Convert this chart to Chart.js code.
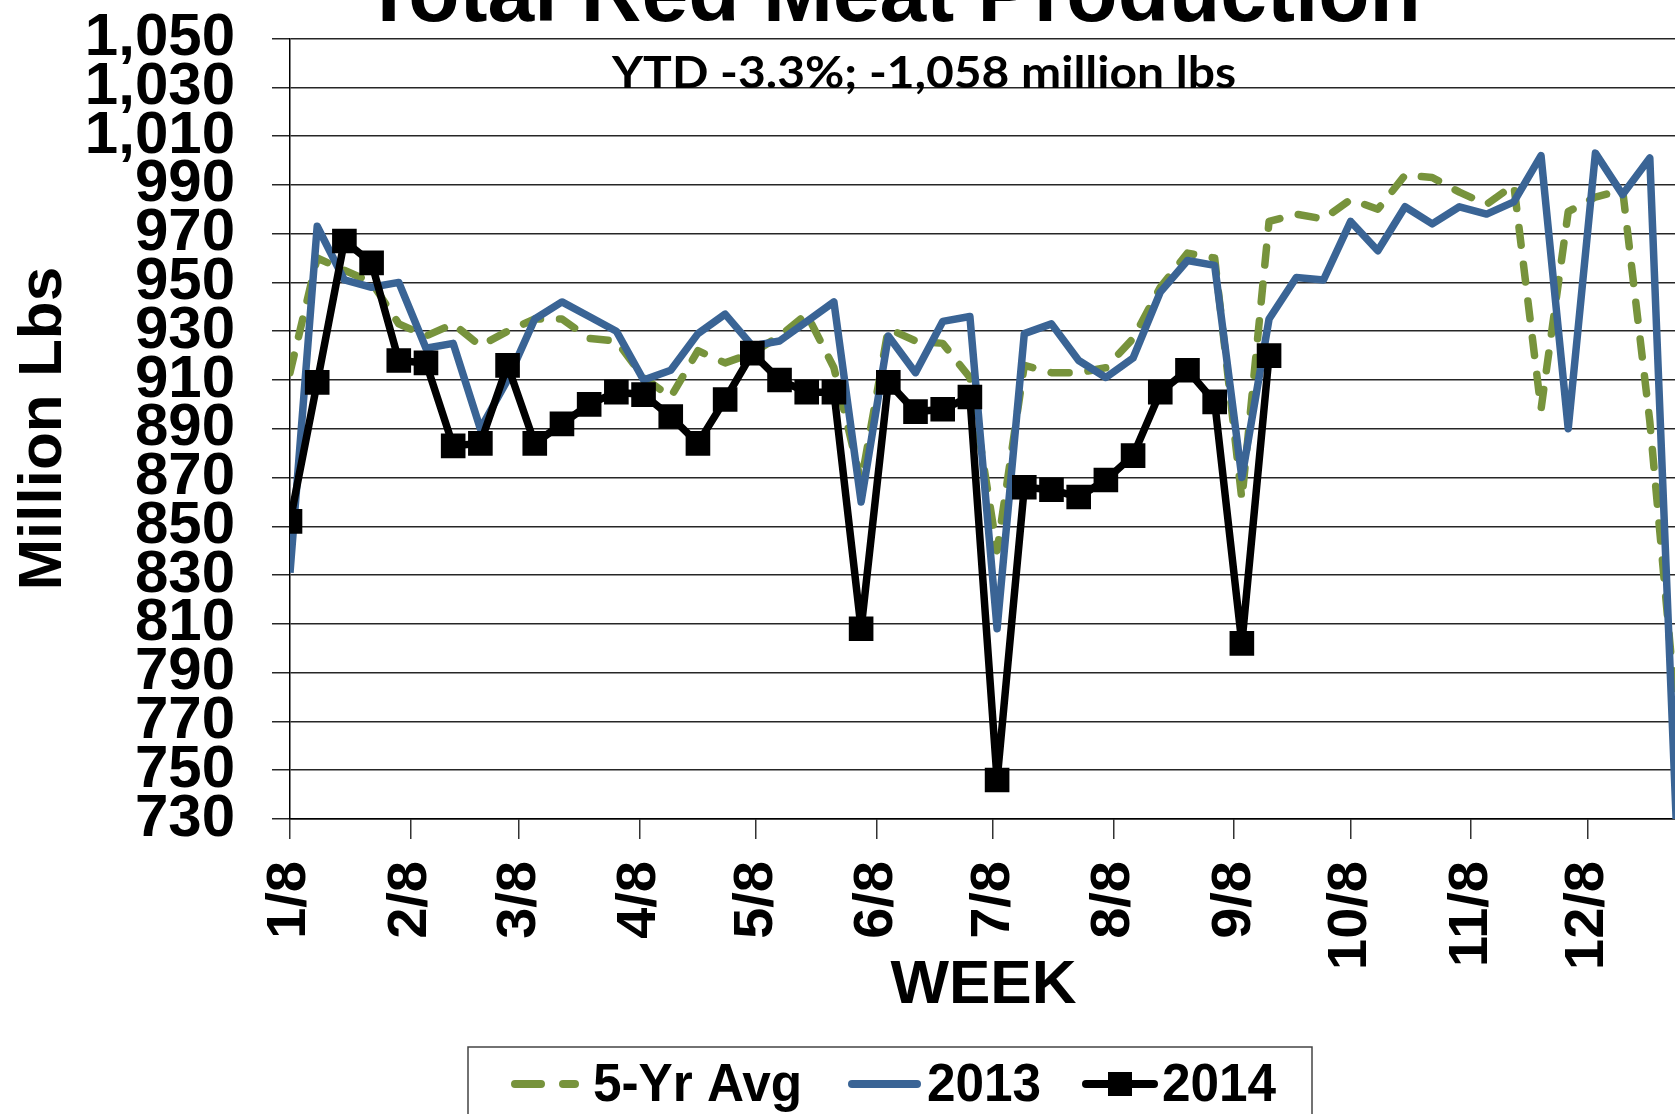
<!DOCTYPE html>
<html>
<head>
<meta charset="utf-8">
<script src="https://cdn.jsdelivr.net/npm/chart.js@4.4.1/dist/chart.umd.min.js"></script>
<style>
  html, body { margin: 0; padding: 0; overflow: hidden; background: #fff; }
  #wrap { width: 1675px; height: 1114px; overflow: hidden; position: relative; }
  canvas { position: absolute; left: 0; top: 0; }
</style>
</head>
<body>
<div id="wrap"><canvas id="meatChart" width="1700" height="1114"></canvas></div>
<script>
// weekly red meat production, million lbs, one value per week from 1/8
var avg5Yr = [913, 960, 955, 950, 933, 928, 933, 924, 930, 935, 935, 927, 926, 911, 903, 922,
              917, 921, 928, 937, 915, 868, 931, 926, 925, 911, 840, 916, 913, 913, 915, 927,
              948, 962, 960, 861, 975, 978, 976, 984, 980, 994, 993, 987, 982, 990, 898, 979,
              985, 988, 893, 770];
var y2013 = [831, 973, 951, 948, 950, 923, 925, 890, 910, 935, 942, 936, 930, 910, 914, 929,
             937, 924, 926, 934, 942, 860, 928, 913, 934, 936, 808, 929, 933, 918, 911, 919,
             946, 959, 957, 870, 935, 952, 951, 975, 963, 981, 974, 981, 978, 983, 1002, 890,
             1003, 986, 1001, 721];
var y2014 = [852, 909, 967, 958, 918, 917, 883, 884, 916, 884, 892, 900, 905, 904, 895, 884,
             902, 921, 910, 905, 905, 808, 909, 897, 898, 903, 746, 866, 865, 862, 869, 879,
             905, 914, 901, 802, 920];

// x axis is in days since 1/8, labelled on the 8th of every month
var monthLabels = ['1/8', '2/8', '3/8', '4/8', '5/8', '6/8', '7/8', '8/8', '9/8', '10/8', '11/8', '12/8'];
var monthDays = [0, 31, 59, 90, 120, 151, 181, 212, 243, 273, 304, 334];
var lastDay = 357;

var yMin = 730, yMax = 1050, yStep = 20;

var chartTitle = 'Total Red Meat Production';
var chartNote = 'YTD -3.3%; -1,058 million lbs';

var ARIAL = '"Liberation Sans", Arial, sans-serif';

function toPoints(values) {
    return values.map(function (v, i) { return { x: i * 7, y: v }; });
}

// title, note in the plot and the boxed legend
var decorations = {
    id: 'decorations',
    afterDraw: function (chart) {
        var ctx = chart.ctx;
        ctx.save();
        ctx.fillStyle = '#000';
        ctx.textAlign = 'center';
        ctx.textBaseline = 'alphabetic';
        ctx.font = 'bold 84px ' + ARIAL;
        ctx.fillText(chartTitle, 892, 21);

        ctx.font = 'bold 44px Lato, "Open Sans", sans-serif';
        var w = ctx.measureText(chartNote).width;
        ctx.save();
        ctx.translate(924, 88);
        ctx.scale(624 / w, 1);
        ctx.fillText(chartNote, 0, 0);
        ctx.restore();

        // legend box
        ctx.strokeStyle = '#444';
        ctx.lineWidth = 1.5;
        ctx.strokeRect(468, 1047, 844, 100);

        var ly = 1084;
        var items = [
            { ds: chart.data.datasets[0], x0: 515, x1: 575, tx: 593 },
            { ds: chart.data.datasets[1], x0: 852, x1: 917, tx: 927 },
            { ds: chart.data.datasets[2], x0: 1086, x1: 1154, tx: 1162 }
        ];
        items.forEach(function (it) {
            ctx.save();
            ctx.strokeStyle = it.ds.borderColor;
            ctx.lineWidth = 8;
            ctx.lineCap = 'round';
            ctx.setLineDash(it.ds.borderDash ? [26, 22] : []);
            ctx.beginPath();
            ctx.moveTo(it.x0, ly);
            ctx.lineTo(it.x1, ly);
            ctx.stroke();
            ctx.restore();
            if (it.ds.pointRadius > 0) {
                ctx.fillStyle = it.ds.pointBackgroundColor;
                ctx.fillRect((it.x0 + it.x1) / 2 - 12, ly - 12, 24, 24);
            }
            ctx.fillStyle = '#000';
            ctx.textAlign = 'left';
            ctx.textBaseline = 'middle';
            ctx.font = 'bold 54px ' + ARIAL;
            ctx.save();
            ctx.translate(it.tx, ly + 2);
            ctx.scale(0.95, 1);
            ctx.fillText(it.ds.label, 0, 0);
            ctx.restore();
        });
        ctx.restore();
    }
};

var ctx = document.getElementById('meatChart').getContext('2d');
var meatChart = new Chart(ctx, {
    type: 'line',
    data: {
        datasets: [{
            label: '5-Yr Avg',
            data: toPoints(avg5Yr),
            borderColor: '#77933C',
            borderWidth: 7.5,
            borderDash: [18, 19],
            borderCapStyle: 'round',
            borderJoinStyle: 'round',
            pointRadius: 0,
            order: 3
        }, {
            label: '2013',
            data: toPoints(y2013),
            borderColor: '#3A6495',
            borderWidth: 7.5,
            borderJoinStyle: 'round',
            pointRadius: 0,
            order: 2
        }, {
            label: '2014',
            data: toPoints(y2014),
            borderColor: '#000',
            borderWidth: 7.5,
            borderJoinStyle: 'round',
            pointStyle: 'rect',
            pointRadius: 16,
            pointBorderWidth: 2,
            pointBackgroundColor: '#000',
            pointBorderColor: '#000',
            order: 1
        }]
    },
    options: {
        responsive: false,
        animation: false,
        devicePixelRatio: 1,
        layout: { padding: { top: 38.5, right: 23, bottom: 91, left: 0 } },
        plugins: {
            legend: { display: false },
            tooltip: { enabled: false }
        },
        scales: {
            x: {
                type: 'linear',
                min: 0,
                max: lastDay,
                afterBuildTicks: function (scale) {
                    scale.ticks = monthDays.map(function (d) { return { value: d }; });
                },
                afterFit: function (scale) { scale.height = 204; },
                ticks: {
                    autoSkip: false,
                    minRotation: 90,
                    maxRotation: 90,
                    padding: 22,
                    color: '#000',
                    font: { family: ARIAL, size: 56, weight: 'bold' },
                    callback: function (value, index) { return monthLabels[index]; }
                },
                grid: { drawOnChartArea: false, tickLength: 20, color: '#333', lineWidth: 1.5 },
                border: { color: '#000', width: 1.5 },
                title: {
                    display: true,
                    text: 'WEEK',
                    color: '#000',
                    font: { family: ARIAL, size: 62, weight: 'bold' },
                    padding: { top: 0, bottom: 0 }
                }
            },
            y: {
                min: yMin,
                max: yMax,
                afterFit: function (scale) {
                    scale.width = 290;
                    // the big tick labels may overhang the plot edges
                    scale.paddingTop = 0;
                    scale.paddingBottom = 0;
                },
                ticks: {
                    stepSize: yStep,
                    autoSkip: false,
                    padding: 37,
                    color: '#000',
                    font: { family: ARIAL, size: 60, weight: 'bold', lineHeight: 0.8 },
                    callback: function (value) { return value.toLocaleString('en-US'); }
                },
                grid: { color: '#262626', lineWidth: 1.5, tickLength: 18 },
                border: { color: '#000', width: 1.5 },
                title: {
                    display: true,
                    text: 'Million Lbs',
                    color: '#000',
                    font: { family: ARIAL, size: 62, weight: 'bold' },
                    padding: { top: 7, bottom: 0 }
                }
            }
        }
    },
    plugins: [decorations]
});
</script>
</body>
</html>
